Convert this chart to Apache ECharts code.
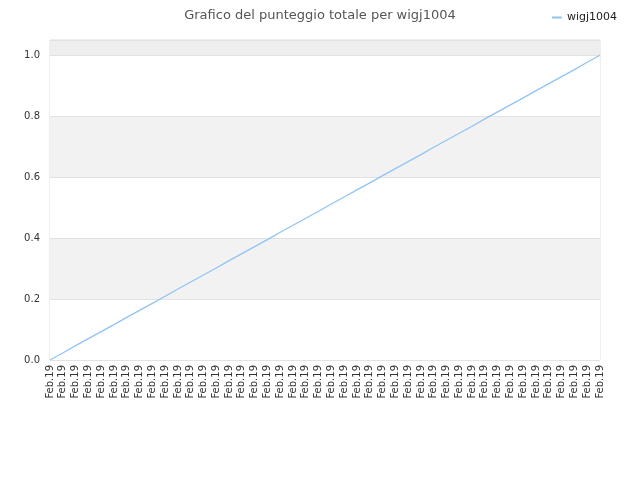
<!DOCTYPE html>
<html>
<head>
<meta charset="utf-8">
<script src="https://cdn.jsdelivr.net/npm/echarts@6/dist/echarts.min.js"></script>
<style>html,body{margin:0;padding:0;background:#fff;}#c{width:640px;height:480px;}</style>
</head>
<body>
<div id="c"></div>
<script>
var categories = ["Feb.19","Feb.19","Feb.19","Feb.19","Feb.19","Feb.19","Feb.19","Feb.19","Feb.19","Feb.19","Feb.19","Feb.19","Feb.19","Feb.19","Feb.19","Feb.19","Feb.19","Feb.19","Feb.19","Feb.19","Feb.19","Feb.19","Feb.19","Feb.19","Feb.19","Feb.19","Feb.19","Feb.19","Feb.19","Feb.19","Feb.19","Feb.19","Feb.19","Feb.19","Feb.19","Feb.19","Feb.19","Feb.19","Feb.19","Feb.19","Feb.19","Feb.19","Feb.19","Feb.19"];
var seriesName = "wigj1004";
var values = [0, 0.023, 0.047, 0.070, 0.093, 0.116, 0.140, 0.163, 0.186, 0.209, 0.233, 0.256, 0.279, 0.302, 0.326, 0.349, 0.372, 0.395, 0.419, 0.442, 0.465, 0.488, 0.512, 0.535, 0.558, 0.581, 0.605, 0.628, 0.651, 0.674, 0.698, 0.721, 0.744, 0.767, 0.791, 0.814, 0.837, 0.860, 0.884, 0.907, 0.930, 0.953, 0.977, 1.0];
var titleText = "Grafico del punteggio totale per wigj1004";

var chart = echarts.init(document.getElementById('c'));
chart.setOption({
  animation: false,
  backgroundColor: '#ffffff',
  title: {
    text: titleText,
    left: 'center',
    top: 4,
    textStyle: { fontFamily: 'DejaVu Sans', fontSize: 13, fontWeight: 'normal', color: '#555' }
  },
  legend: {
    data: [seriesName],
    right: 18,
    top: 7,
    itemWidth: 10,
    itemHeight: 2,
    itemGap: 6,
    icon: 'rect',
    textStyle: { fontFamily: 'DejaVu Sans', fontSize: 11, color: '#222' }
  },
  grid: {
    left: 50, right: 40, top: 40, bottom: 120,
    show: true, borderColor: '#dddddd', borderWidth: 1
  },
  xAxis: {
    type: 'category',
    data: categories,
    boundaryGap: false,
    axisLine: { show: false },
    axisTick: { show: false },
    splitLine: { show: false },
    axisLabel: {
      interval: 0, rotate: 90, margin: 5,
      fontFamily: 'DejaVu Sans', fontSize: 10, color: '#333'
    }
  },
  yAxis: {
    type: 'value',
    min: 0, max: 1.05, interval: 0.2,
    axisLine: { show: false },
    axisTick: { show: false },
    axisLabel: {
      fontFamily: 'DejaVu Sans', fontSize: 10, color: '#333', margin: 10,
      formatter: function (v) { return v.toFixed(1); },
      showMaxLabel: false
    },
    splitLine: { show: true, lineStyle: { color: '#e2e2e2', width: 1 } },
    splitArea: { show: true, areaStyle: { color: ['#ffffff', '#f2f2f2', '#ffffff', '#f2f2f2', '#ffffff', '#eeeeee'] } }
  },
  series: [{
    name: seriesName,
    type: 'line',
    data: values,
    symbol: 'none',
    lineStyle: { color: '#92c3f5', width: 1.3 },
    itemStyle: { color: '#92c3f5' }
  }]
});
</script>
</body>
</html>
